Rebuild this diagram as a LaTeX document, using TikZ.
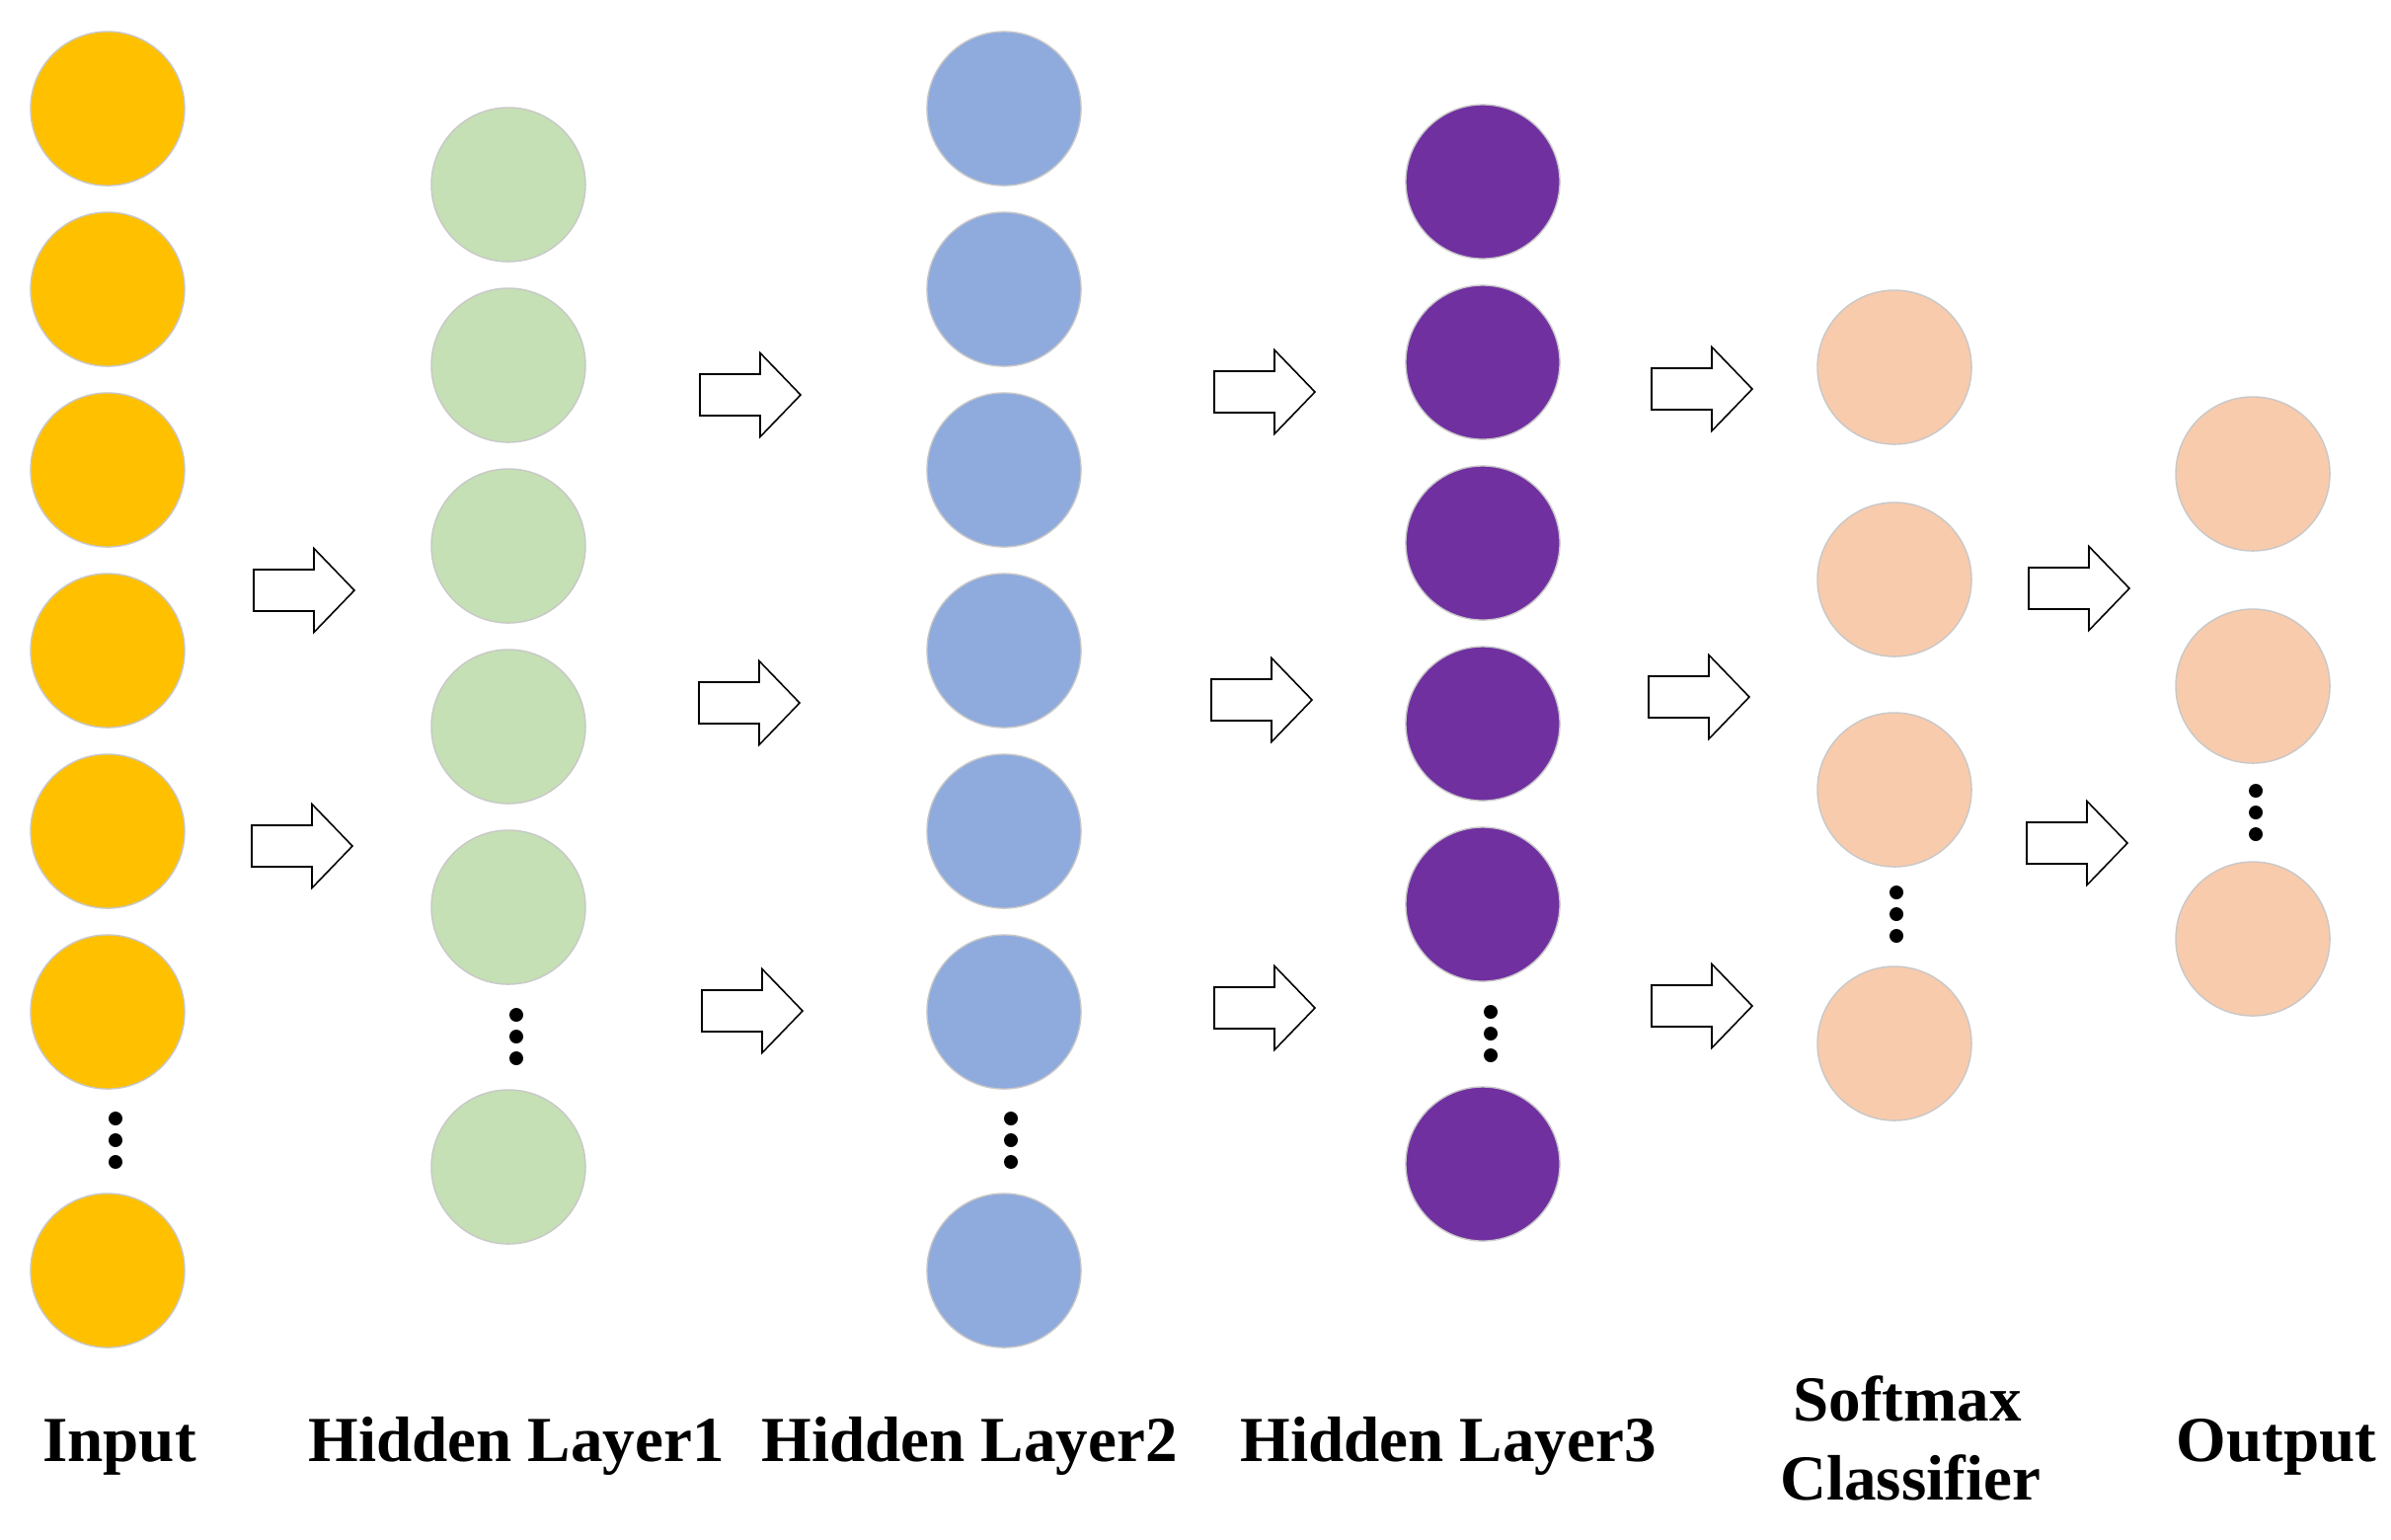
\documentclass[tikz,border=0pt]{standalone}
\usepackage{fontspec}
\setmainfont{Liberation Serif}
\definecolor{cyel}{HTML}{FFC000}
\definecolor{cgrn}{HTML}{C5E0B4}
\definecolor{cblu}{HTML}{8FAADC}
\definecolor{cpur}{HTML}{7030A0}
\definecolor{cpch}{HTML}{F8CBAD}
\definecolor{cedge}{HTML}{C8C8C8}
\tikzset{
  neuron/.style={circle, minimum size=1.56cm, inner sep=0pt, draw=cedge, line width=0.4pt},
  dotsty/.style={fill=black},
  arrowsty/.style={draw=black, fill=white, line width=0.45pt, line join=miter},
  lbl/.style={font=\fontsize{18.5}{24}\selectfont\bfseries, anchor=base, inner sep=0pt, align=center}
}
\newcommand{\blkarrow}[2]{%
  \path[arrowsty] (#1+2,#2-21) -- (#1+63,#2-21) -- (#1+63,#2-42.5) -- (#1+104,#2) -- (#1+63,#2+42.5) -- (#1+63,#2+21) -- (#1+2,#2+21) -- cycle;}
\newcommand{\vdotsthree}[2]{%
  \fill[dotsty] (#1,#2-22) circle (7) (#1,#2) circle (7) (#1,#2+22) circle (7);}
\begin{document}
\begin{tikzpicture}[x=0.01cm,y=-0.01cm]
\useasboundingbox (0,0) rectangle (2422,1559);
% Input
\foreach \i/\y in {1/110,2/293,3/476,4/659,5/842,6/1025,7/1287}
  \node[neuron, fill=cyel] (in\i) at (109,\y) {};
\vdotsthree{117}{1155}
% Hidden 1
\foreach \i/\y in {1/187,2/370,3/553,4/736,5/919,6/1182}
  \node[neuron, fill=cgrn] (ha\i) at (515,\y) {};
\vdotsthree{523}{1050}
% Hidden 2
\foreach \i/\y in {1/110,2/293,3/476,4/659,5/842,6/1025,7/1287}
  \node[neuron, fill=cblu] (hb\i) at (1017,\y) {};
\vdotsthree{1024}{1155}
% Hidden 3
\foreach \i/\y in {1/184,2/367,3/550,4/733,5/916,6/1179}
  \node[neuron, fill=cpur] (hc\i) at (1502,\y) {};
\vdotsthree{1510}{1047}
% Softmax
\foreach \i/\y in {1/372,2/587,3/800,4/1057}
  \node[neuron, fill=cpch] (sm\i) at (1919,\y) {};
\vdotsthree{1921}{926}
% Output
\foreach \i/\y in {1/480,2/695,3/951}
  \node[neuron, fill=cpch] (out\i) at (2282,\y) {};
\vdotsthree{2285}{823}
% Arrows
\blkarrow{255}{598}
\blkarrow{253}{857}
\blkarrow{707}{400}
\blkarrow{706}{712}
\blkarrow{709}{1024}
\blkarrow{1228}{397}
\blkarrow{1225}{709}
\blkarrow{1228}{1021}
\blkarrow{1671}{394}
\blkarrow{1668}{706}
\blkarrow{1671}{1019}
\blkarrow{2053}{596}
\blkarrow{2051}{854}
% Labels
\node[lbl] (lin) at (121,1480) {Input};
\node[lbl] (lh1) at (523,1480) {Hidden Layer1};
\node[lbl] (lh2) at (982,1480) {Hidden Layer2};
\node[lbl] (lh3) at (1467,1480) {Hidden Layer3};
\node[lbl] (lsm) at (1932,1439) {Softmax};
\node[lbl] (lcl) at (1935,1519) {Classifier};
\node[lbl] (lout) at (2306,1480) {Output};
\end{tikzpicture}
\end{document}
